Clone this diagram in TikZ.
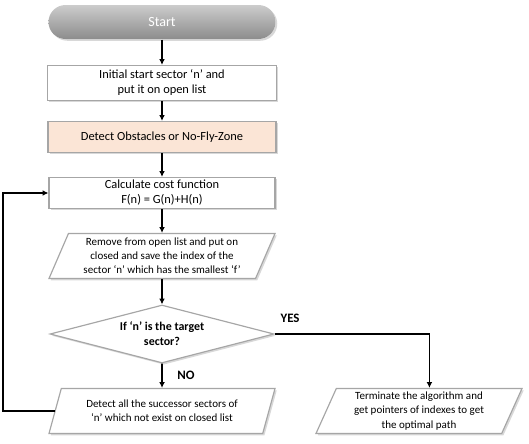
\documentclass[tikz,border=0pt]{standalone}
\usepackage{fontspec}
\setmainfont{Carlito}
\usetikzlibrary{shapes.geometric,shadows,arrows.meta}
\definecolor{peach}{RGB}{251,229,214}

\begin{document}
\begin{tikzpicture}[x=0.03cm,y=-0.03cm,
  box/.style={draw=black!35,line width=1pt,fill=white,align=center,inner sep=1pt,
    font=\fontsize{10.6}{12.8}\selectfont,
    drop shadow={shadow xshift=1.5pt,shadow yshift=-1.5pt,fill=black!30}},
  para/.style={box,trapezium,trapezium left angle=63,trapezium right angle=117,
    trapezium stretches body,minimum height=1.35cm,font=\fontsize{9.4}{12}\selectfont},
  flow/.style={line width=1.5pt,-{Latex[length=5pt,width=5pt]}},
  lbl/.style={font=\fontsize{11}{12}\selectfont\bfseries}]
  \useasboundingbox (0,0) rectangle (529,443);
  \node[box,draw=none,rounded corners=0.51cm,top color=black!20,bottom color=black!45,
    text=white,minimum width=6.81cm,minimum height=1.02cm,
    font=\fontsize{12}{14}\selectfont] (start) at (162,22) {Start};
  \node[box,minimum width=6.87cm,minimum height=1.05cm] (init) at (162,83)
    {Initial start sector ‘n’ and\\put it on open list};
  \node[box,fill=peach,minimum width=6.84cm,minimum height=0.93cm] (obst) at (162,137)
    {Detect Obstacles or No-Fly-Zone};
  \node[box,minimum width=6.78cm,minimum height=0.93cm] (calc) at (162,193)
    {Calculate cost function\\F(n) = G(n)+H(n)};
  \node[para,minimum width=6.78cm] (remove) at (162,256)
    {Remove from open list and put on\\closed and save the index of the\\sector ‘n’ which has the smallest ‘f’};
  \node[box,diamond,aspect=3.86,minimum width=6.72cm,minimum height=1.74cm,inner sep=0pt,
    font=\fontsize{10.2}{13}\selectfont\bfseries] (dec) at (162,334)
    {If ‘n’ is the target\\sector?};
  \node[para,minimum width=6.78cm] (succ) at (162,411)
    {Detect all the successor sectors of\\‘n’ which not exist on closed list};
  \node[para,minimum width=6.18cm] (term) at (419,411)
    {Terminate the algorithm and\\get pointers of indexes to get\\the optimal path};
  \coordinate (back) at (3,0);
  \draw[flow] (start) -- (init);
  \draw[flow] (init) -- (obst);
  \draw[flow] (obst) -- (calc);
  \draw[flow] (calc) -- (remove);
  \draw[flow] (remove) -- (dec);
  \draw[flow] (dec) -- (succ) node[lbl,midway,right=9pt] {NO};
  \draw[flow] (dec.east) -| (term.top side) node[lbl,pos=0.05,above=6pt] {YES};
  \draw[flow] (succ.left side) -- (succ.left side -| back) |- (calc.west);
\end{tikzpicture}
\end{document}
